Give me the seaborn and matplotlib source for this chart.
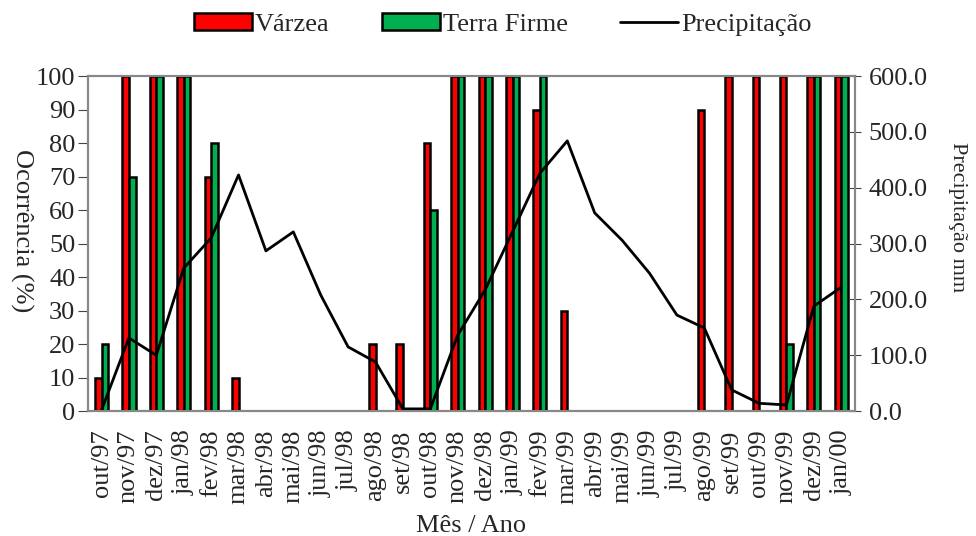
import seaborn as sns
import matplotlib.pyplot as plt
import pandas as pd
import numpy as np

meses = ['out/97', 'nov/97', 'dez/97', 'jan/98', 'fev/98', 'mar/98', 'abr/98',
         'mai/98', 'jun/98', 'jul/98', 'ago/98', 'set/98', 'out/98', 'nov/98',
         'dez/98', 'jan/99', 'fev/99', 'mar/99', 'abr/99', 'mai/99', 'jun/99',
         'jul/99', 'ago/99', 'set/99', 'out/99', 'nov/99', 'dez/99', 'jan/00']
varzea = [10, 100, 100, 100, 70, 10, 0, 0, 0, 0, 20, 20, 80, 100,
          100, 100, 90, 30, 0, 0, 0, 0, 90, 100, 100, 100, 100, 100]
terra_firme = [20, 70, 100, 100, 80, 0, 0, 0, 0, 0, 0, 0, 60, 100,
               100, 100, 100, 0, 0, 0, 0, 0, 0, 0, 0, 20, 100, 100]
precipitacao = [2, 131, 100, 256, 310, 423, 287, 321, 208, 115, 88, 4, 4, 136,
                217, 321, 426, 484, 355, 306, 247, 172, 149, 38, 14, 11, 188, 222]

df = pd.DataFrame({
    'Mês': meses * 2,
    'Ocorrência': varzea + terra_firme,
    'Tipo': ['Várzea'] * len(meses) + ['Terra Firme'] * len(meses)
})
chuva = pd.DataFrame({'pos': np.arange(len(meses)), 'Precipitação': precipitacao})

sns.set_style('white')
plt.rcParams['font.family'] = ['Liberation Serif', 'DejaVu Serif']
fs = 19

fig = plt.figure(figsize=(9.76, 5.36), dpi=100)
ax = fig.add_axes([0.09, 0.233, 0.786, 0.625])

# barras de ocorrência
sns.barplot(data=df, x='Mês', y='Ocorrência', hue='Tipo', order=meses,
            palette={'Várzea': '#ff0000', 'Terra Firme': '#00b050'},
            width=0.48, edgecolor='black', linewidth=1.8, saturation=1,
            ax=ax, legend=False)

# precipitação no eixo da direita
ax2 = ax.twinx()
sns.lineplot(data=chuva, x='pos', y='Precipitação', color='black', linewidth=2,
             ax=ax2, label='Precipitação', legend=False)

ax.set_xlim(-0.5, len(meses) - 0.5)
ax.set_ylim(0, 100)
ax2.set_ylim(0, 600)
ax.set_yticks(range(0, 101, 10))
ax2.set_yticks(range(0, 601, 100))
ax2.set_yticklabels([f'{v:.1f}' for v in range(0, 601, 100)])

ax.set_xticks(range(len(meses)))
ax.set_xticklabels(meses, rotation=90, fontsize=fs)
ax.set_xticks(np.arange(-0.5, len(meses), 1), minor=True)
ax.tick_params(axis='x', which='major', length=0, pad=13)
ax.tick_params(axis='x', which='minor', length=7, width=1, direction='out', color='#444444')
ax.tick_params(axis='y', labelsize=fs, length=7, direction='out', color='#444444', pad=2)
ax2.tick_params(axis='y', labelsize=fs, length=8, direction='inout', color='#444444', pad=6)

ax.set_xlabel('Mês / Ano', fontsize=fs)
ax.xaxis.set_label_coords(0.5, -0.31)
ax.set_ylabel('Ocorrência (%)', fontsize=fs, rotation=270, ha='center', va='center')
ax.yaxis.set_label_coords(-0.087, 0.54)
ax2.set_ylabel('Precipitação mm', fontsize=16, rotation=270, ha='center', va='center')
ax2.yaxis.set_label_coords(1.133, 0.58)
ax2.set_xlabel('')

for a in (ax, ax2):
    for s in a.spines.values():
        s.set_color('#888888')
        s.set_linewidth(1.5)
ax.spines['left'].set_color('#333333')
ax.spines['bottom'].set_color('#333333')

handles = [plt.Rectangle((0, 0), 1, 1, facecolor='#ff0000', edgecolor='black', linewidth=1.8),
           plt.Rectangle((0, 0), 1, 1, facecolor='#00b050', edgecolor='black', linewidth=1.8),
           ax2.get_lines()[0]]
fig.legend(handles, ['Várzea', 'Terra Firme', 'Precipitação'], loc='upper center',
           bbox_to_anchor=(0.515, 1.02), ncol=3, frameon=False, fontsize=fs,
           handlelength=2.2, handleheight=0.6, handletextpad=0.1, columnspacing=2.0)

fig.savefig('out.png', dpi=100)
